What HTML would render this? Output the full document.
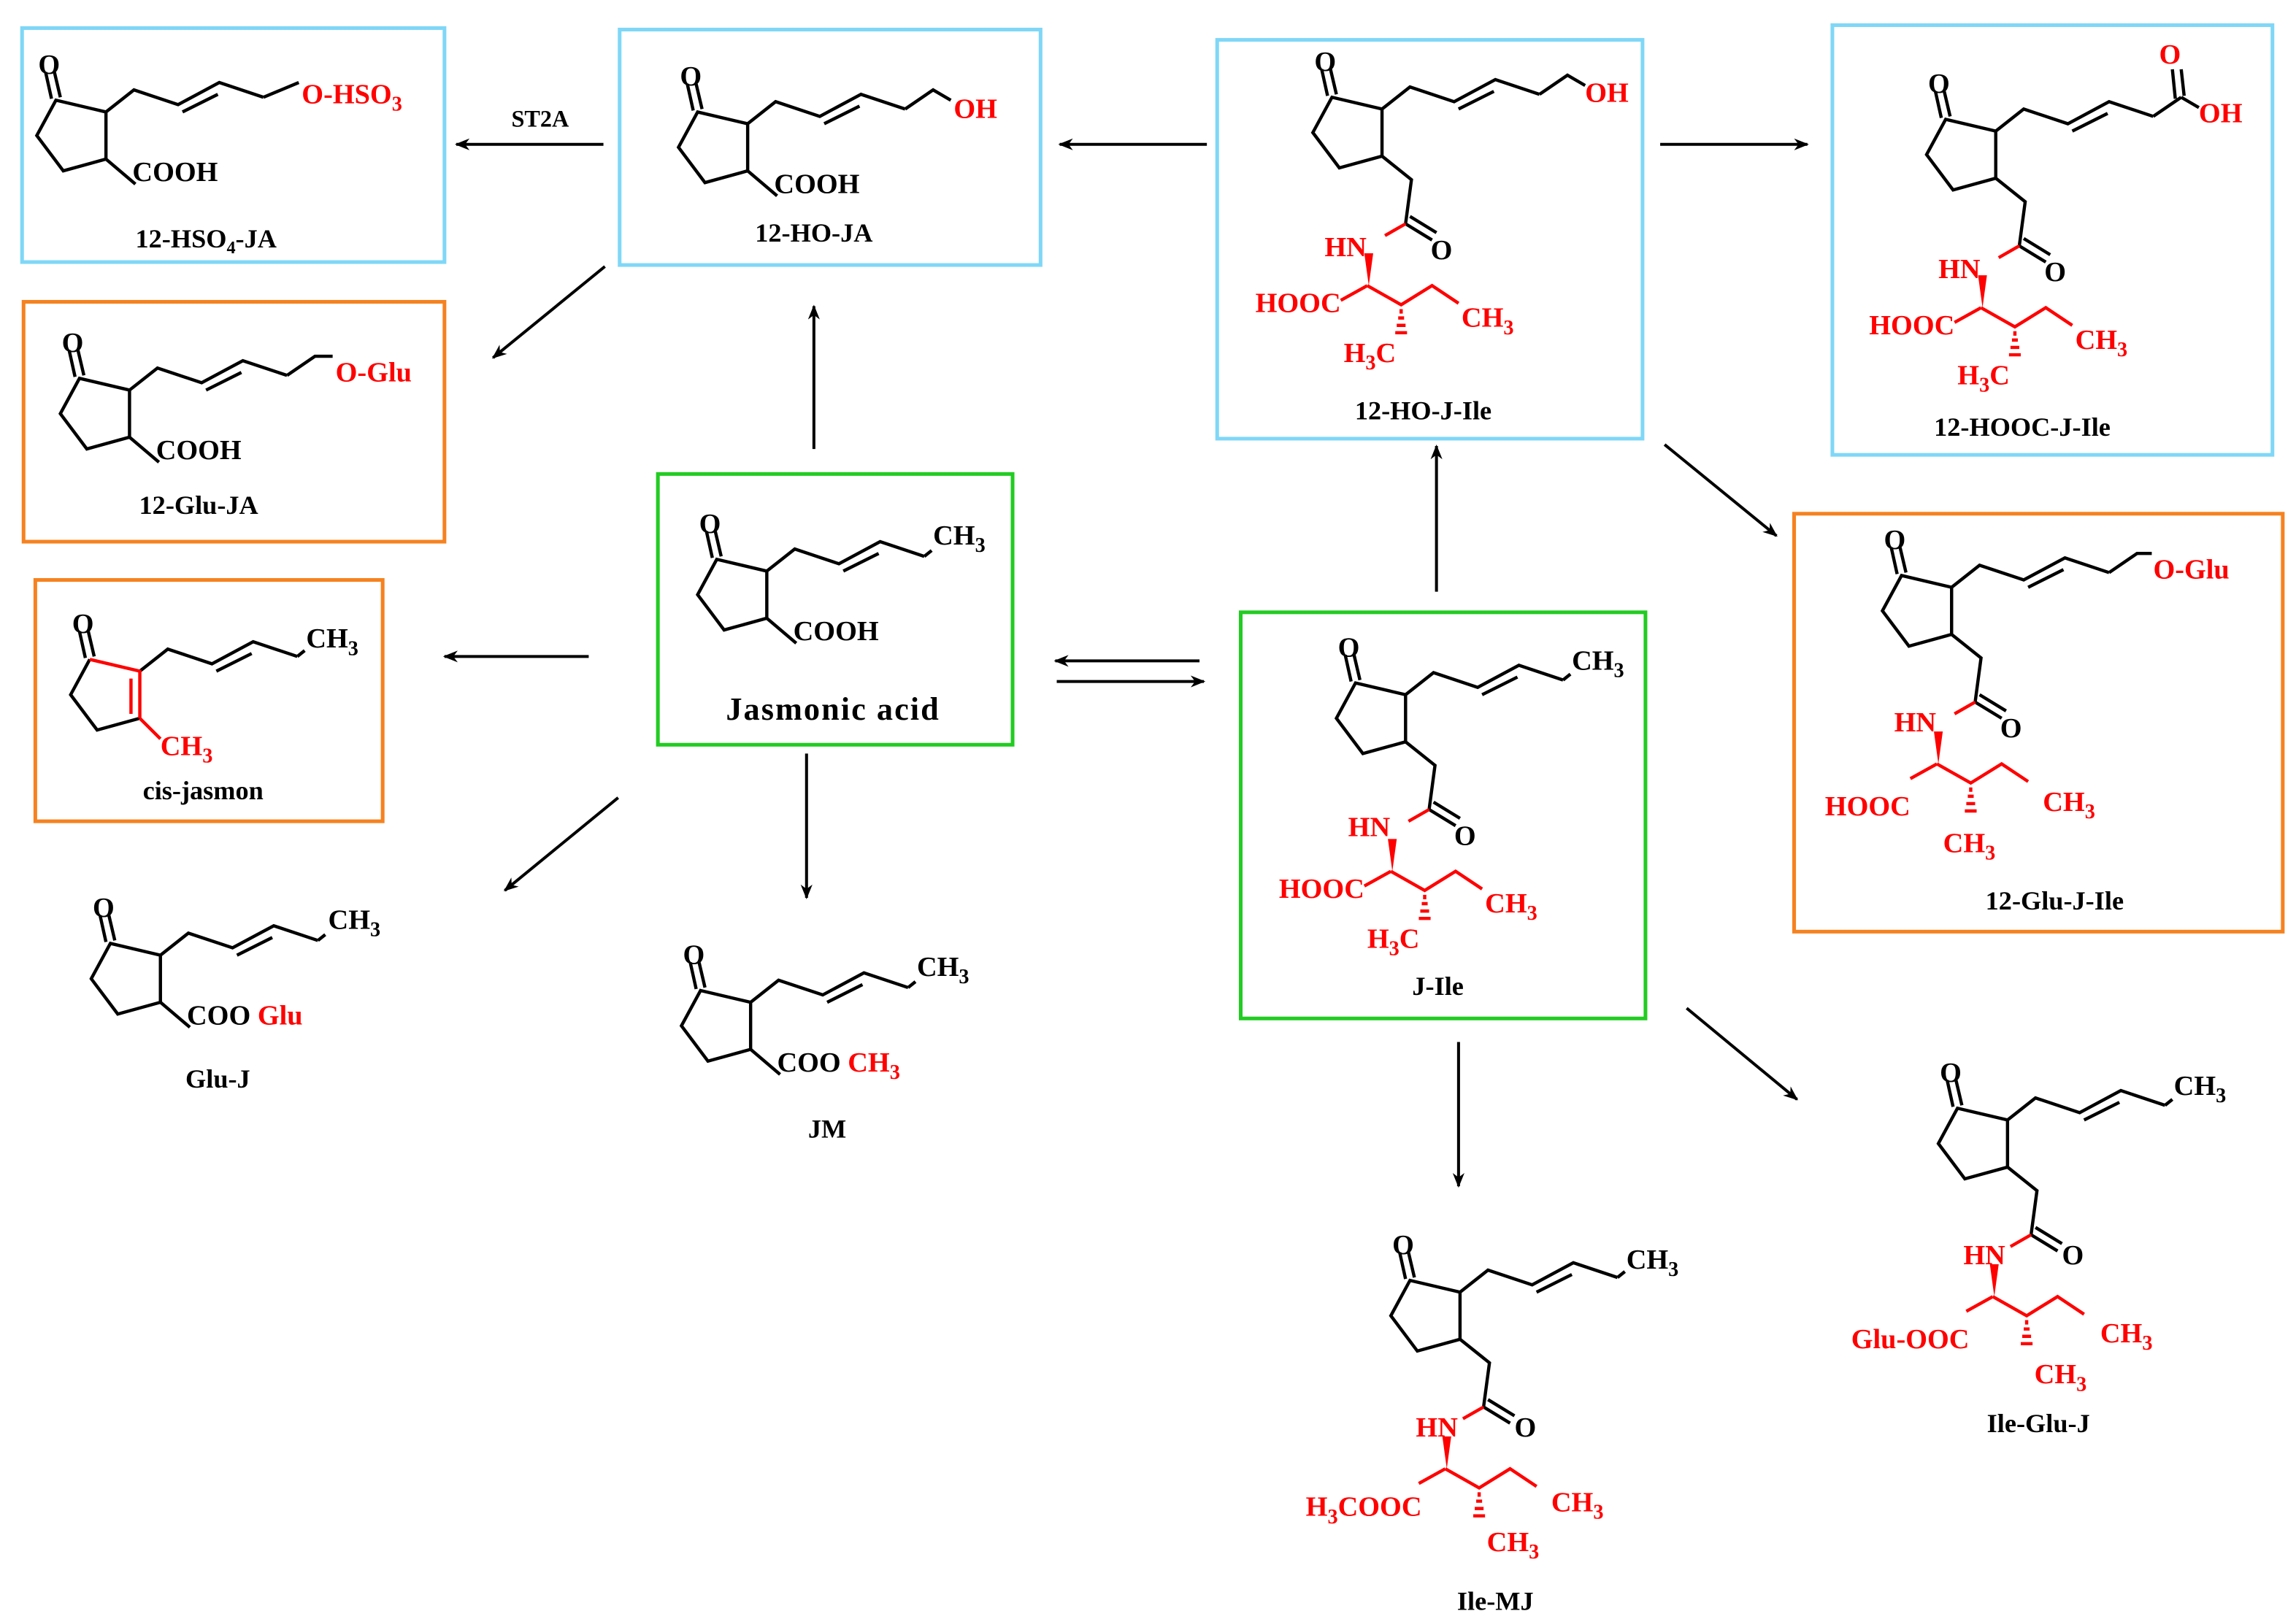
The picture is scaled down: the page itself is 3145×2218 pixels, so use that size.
<!DOCTYPE html>
<html><head><meta charset="utf-8"><style>
html,body{margin:0;padding:0;background:#fff;}
svg{display:block;}
text{font-family:"Liberation Serif",serif;font-weight:bold;font-size:19px;}
.r{fill:#f00;}
.lbl{font-size:18px;text-anchor:middle;}
.sk{fill:none;stroke:#000;stroke-width:2.2;}
.skr{fill:none;stroke:#f00;stroke-width:2.2;}
</style></head><body>
<svg width="3145" height="2218" viewBox="0 0 1560 1100" xmlns="http://www.w3.org/2000/svg">
<defs>
<marker id="ah" markerWidth="10" markerHeight="8" refX="9" refY="4" orient="auto" markerUnits="userSpaceOnUse">
<path d="M0,0 L10,4 L0,8 L3,4 Z" fill="#000"/></marker>
<g id="core">
<path class="sk" d="M0,0 L34,8 L34,40 L5,48 L-13,24 Z M-3,-1 L-7,-19 M3,-2 L-1,-19 M34,8 L53,-7 L83,3 L111,-12 L141,-2 M86,8 L110,-4"/>
</g>
<g id="amide">
<path class="sk" d="M34,40 L54,56 L50,86 M50,86 L68,97 M53,81 L71,92"/>
<path class="skr" d="M50,86 L36,94 M24,128 L6,138 M24,128 L47,141 L68,128 L86,140"/>
<polygon fill="#f00" points="22,106 28,106 25,128"/>
<path class="skr" d="M47,144 L47,147 M45,150 L49,150 M44,155 L50,155 M43,160 L51,160" stroke-width="1.8"/>
</g>
</defs>

<g fill="none" stroke-width="2.5">
<rect x="15" y="19" width="287" height="159" stroke="#7fd7f7"/>
<rect x="421" y="20" width="286" height="160" stroke="#7fd7f7"/>
<rect x="827" y="27" width="289" height="271" stroke="#7fd7f7"/>
<rect x="1245" y="17" width="299" height="292" stroke="#7fd7f7"/>
<rect x="16" y="205" width="286" height="163" stroke="#f58220"/>
<rect x="24" y="394" width="236" height="164" stroke="#f58220"/>
<rect x="1219" y="349" width="332" height="284" stroke="#f58220"/>
<rect x="447" y="322" width="241" height="184" stroke="#22cc22"/>
<rect x="843" y="416" width="275" height="276" stroke="#22cc22"/>
</g>

<g stroke="#000" stroke-width="2" marker-end="url(#ah)">
<line x1="410" y1="98" x2="310" y2="98"/>
<line x1="820" y1="98" x2="720" y2="98"/>
<line x1="1128" y1="98" x2="1228" y2="98"/>
<line x1="411" y1="181" x2="335" y2="243"/>
<line x1="553" y1="305" x2="553" y2="208"/>
<line x1="400" y1="446" x2="302" y2="446"/>
<line x1="420" y1="542" x2="343" y2="605"/>
<line x1="548" y1="512" x2="548" y2="610"/>
<line x1="815" y1="449" x2="717" y2="449"/>
<line x1="718" y1="463" x2="818" y2="463"/>
<line x1="976" y1="402" x2="976" y2="303"/>
<line x1="1131" y1="302" x2="1207" y2="364"/>
<line x1="991" y1="708" x2="991" y2="806"/>
<line x1="1146" y1="685" x2="1221" y2="747"/>
</g>
<text x="367" y="86" class="lbl" style="font-size:16px">ST2A</text>

<g transform="translate(38,68)">
<use href="#core"/><path class="sk" d="M141,-2 L165,-12 M34,40 L54,57"/>
<text x="-12" y="-18">O</text>
<text x="167" y="2" class="r">O-HSO<tspan font-size="14" dy="5">3</tspan></text>
<text x="52" y="55">COOH</text>
</g>
<text x="140" y="168" class="lbl">12-HSO<tspan font-size="12" dy="4">4</tspan><tspan dy="-4">-JA</tspan></text>

<g transform="translate(474,76)">
<use href="#core"/><path class="sk" d="M141,-2 L160,-15 L172,-8 M34,40 L54,57"/>
<text x="-12" y="-18">O</text>
<text x="174" y="4" class="r">OH</text>
<text x="52" y="55">COOH</text>
</g>
<text x="553" y="164" class="lbl">12-HO-JA</text>

<g transform="translate(905,66)">
<use href="#core"/><use href="#amide"/><path class="sk" d="M141,-2 L160,-15 L172,-8"/>
<text x="-12" y="-18">O</text>
<text x="172" y="3" class="r">OH</text>
<text x="67" y="110">O</text>
<text x="-5" y="108" class="r">HN</text>
<text x="6" y="146" class="r" text-anchor="end">HOOC</text>
<text x="88" y="156" class="r">CH<tspan font-size="14" dy="5">3</tspan></text>
<text x="8" y="180" class="r">H<tspan font-size="14" dy="5">3</tspan><tspan dy="-5">C</tspan></text>
</g>
<text x="967" y="285" class="lbl">12-HO-J-Ile</text>

<g transform="translate(1322,81)">
<use href="#core"/><use href="#amide"/><path class="sk" d="M141,-2 L160,-15 M156,-14 L154,-34 M162,-16 L160,-34 M160,-15 L172,-8"/>
<text x="-12" y="-18">O</text>
<text x="145" y="-38" class="r">O</text>
<text x="172" y="2" class="r">OH</text>
<text x="67" y="110">O</text>
<text x="-5" y="108" class="r">HN</text>
<text x="6" y="146" class="r" text-anchor="end">HOOC</text>
<text x="88" y="156" class="r">CH<tspan font-size="14" dy="5">3</tspan></text>
<text x="8" y="180" class="r">H<tspan font-size="14" dy="5">3</tspan><tspan dy="-5">C</tspan></text>
</g>
<text x="1374" y="296" class="lbl">12-HOOC-J-Ile</text>

<g transform="translate(54,257)">
<use href="#core"/><path class="sk" d="M141,-2 L160,-15 L172,-15 M34,40 L54,57"/>
<text x="-12" y="-18">O</text>
<text x="174" y="2" class="r">O-Glu</text>
<text x="52" y="55">COOH</text>
</g>
<text x="135" y="349" class="lbl">12-Glu-JA</text>

<g transform="translate(61,448)">
<path class="sk" d="M0,0 L-13,24 L5,48 L34,40 M-3,-1 L-7,-19 M3,-2 L-1,-19 M34,8 L53,-7 L83,3 L111,-12 L141,-2 M86,8 L110,-4 M141,-2 L146,-6"/>
<path class="skr" d="M0,0 L34,8 L34,40 M28,13 L28,37 M34,40 L48,54"/>
<text x="-12" y="-18">O</text>
<text x="147" y="-8">CH<tspan font-size="14" dy="5">3</tspan></text>
<text x="48" y="65" class="r">CH<tspan font-size="14" dy="5">3</tspan></text>
</g>
<text x="138" y="543" class="lbl">cis-jasmon</text>

<g transform="translate(487,380)">
<use href="#core"/><path class="sk" d="M34,40 L54,57 M141,-2 L146,-6"/>
<text x="-12" y="-18">O</text>
<text x="147" y="-10">CH<tspan font-size="14" dy="5">3</tspan></text>
<text x="52" y="55">COOH</text>
</g>
<text x="566" y="489" class="lbl" style="font-size:22px;letter-spacing:1px">Jasmonic acid</text>

<g transform="translate(75,641)">
<use href="#core"/><path class="sk" d="M34,40 L54,57 M141,-2 L146,-6"/>
<text x="-12" y="-18">O</text>
<text x="148" y="-10">CH<tspan font-size="14" dy="5">3</tspan></text>
<text x="52" y="55">COO <tspan class="r">Glu</tspan></text>
</g>
<text x="148" y="739" class="lbl">Glu-J</text>

<g transform="translate(476,673)">
<use href="#core"/><path class="sk" d="M34,40 L54,57 M141,-2 L146,-6"/>
<text x="-12" y="-18">O</text>
<text x="147" y="-10">CH<tspan font-size="14" dy="5">3</tspan></text>
<text x="52" y="55">COO <tspan class="r">CH<tspan font-size="14" dy="5">3</tspan></tspan></text>
</g>
<text x="562" y="773" class="lbl">JM</text>

<g transform="translate(921,464)">
<use href="#core"/><use href="#amide"/><path class="sk" d="M141,-2 L146,-6"/>
<text x="-12" y="-18">O</text>
<text x="147" y="-9">CH<tspan font-size="14" dy="5">3</tspan></text>
<text x="67" y="110">O</text>
<text x="-5" y="104" class="r">HN</text>
<text x="6" y="146" class="r" text-anchor="end">HOOC</text>
<text x="88" y="156" class="r">CH<tspan font-size="14" dy="5">3</tspan></text>
<text x="8" y="180" class="r">H<tspan font-size="14" dy="5">3</tspan><tspan dy="-5">C</tspan></text>
</g>
<text x="977" y="676" class="lbl">J-Ile</text>

<g transform="translate(1292,391)">
<use href="#core"/><use href="#amide"/><path class="sk" d="M141,-2 L160,-15 L170,-15"/>
<text x="-12" y="-18">O</text>
<text x="171" y="2" class="r">O-Glu</text>
<text x="67" y="110">O</text>
<text x="-5" y="106" class="r">HN</text>
<text x="6" y="163" class="r" text-anchor="end">HOOC</text>
<text x="96" y="160" class="r">CH<tspan font-size="14" dy="5">3</tspan></text>
<text x="46" y="188" class="r" text-anchor="middle">CH<tspan font-size="14" dy="5">3</tspan></text>
</g>
<text x="1396" y="618" class="lbl">12-Glu-J-Ile</text>

<g transform="translate(958,870)">
<use href="#core"/><use href="#amide"/><path class="sk" d="M141,-2 L146,-6"/>
<text x="-12" y="-18">O</text>
<text x="147" y="-8">CH<tspan font-size="14" dy="5">3</tspan></text>
<text x="71" y="106">O</text>
<text x="4" y="106" class="r">HN</text>
<text x="8" y="160" class="r" text-anchor="end">H<tspan font-size="14" dy="5">3</tspan><tspan dy="-5">COOC</tspan></text>
<text x="96" y="157" class="r">CH<tspan font-size="14" dy="5">3</tspan></text>
<text x="70" y="184" class="r" text-anchor="middle">CH<tspan font-size="14" dy="5">3</tspan></text>
</g>
<text x="1016" y="1094" class="lbl">Ile-MJ</text>

<g transform="translate(1330,753)">
<use href="#core"/><use href="#amide"/><path class="sk" d="M141,-2 L146,-6"/>
<text x="-12" y="-18">O</text>
<text x="147" y="-9">CH<tspan font-size="14" dy="5">3</tspan></text>
<text x="71" y="106">O</text>
<text x="4" y="106" class="r">HN</text>
<text x="8" y="163" class="r" text-anchor="end">Glu-OOC</text>
<text x="97" y="159" class="r">CH<tspan font-size="14" dy="5">3</tspan></text>
<text x="70" y="187" class="r" text-anchor="middle">CH<tspan font-size="14" dy="5">3</tspan></text>
</g>
<text x="1385" y="973" class="lbl">Ile-Glu-J</text>
</svg>
</body></html>
